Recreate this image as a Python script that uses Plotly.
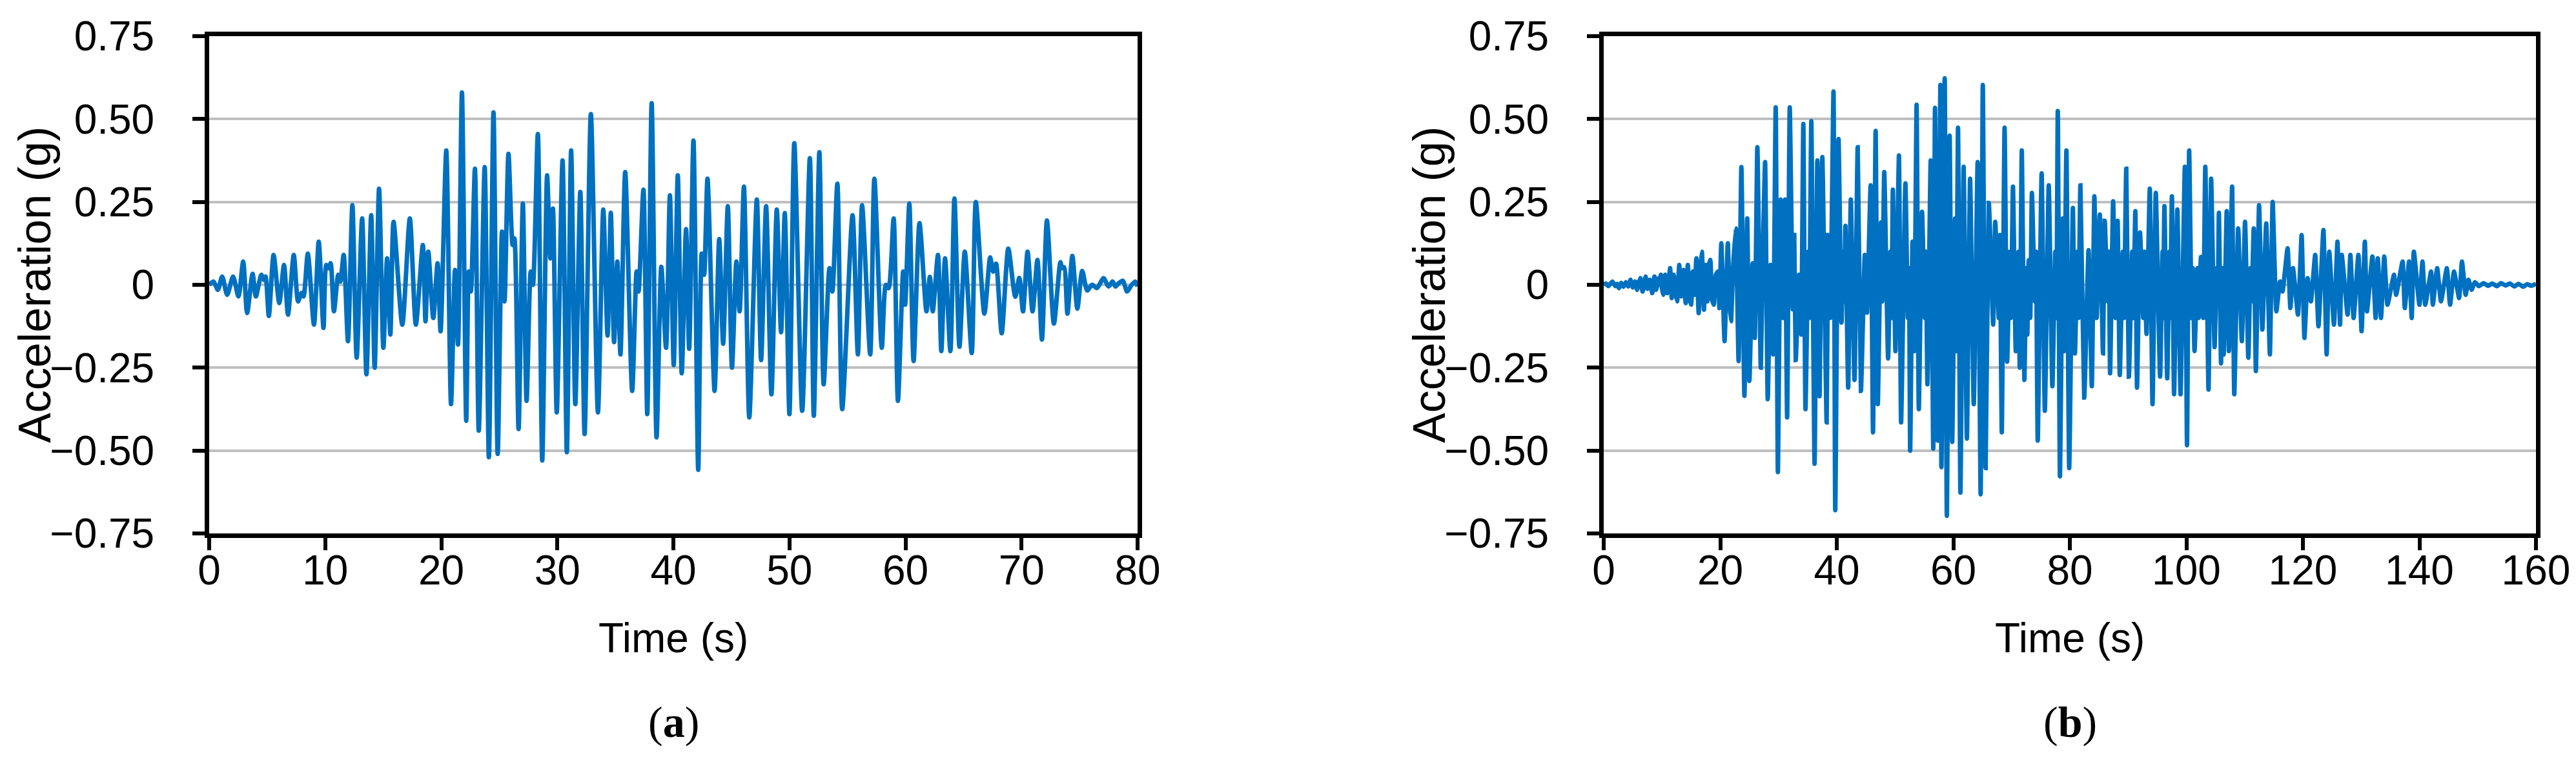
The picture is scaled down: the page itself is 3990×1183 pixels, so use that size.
import plotly.graph_objects as go

# ---------------- data: panel (a) ----------------
time_a = [0, 0.37, 0.75, 1.12, 1.55, 2.06, 2.52, 2.93, 3.27, 3.74,
          4.02, 4.49, 4.7, 4.86, 5.14, 5.55, 6.04, 6.45, 6.79, 7.29,
          7.66, 7.95, 8.13, 8.5, 9.03, 9.44, 9.85, 10.09, 10.3, 10.47,
          10.75, 11.12, 11.3, 11.59, 11.96, 12.34, 12.71, 13.18, 13.55, 13.96,
          14.26, 14.64, 15.01, 15.33, 15.61, 15.89, 16.64, 17.29, 17.81, 18.41,
          18.64, 18.88, 19.31, 19.68, 19.94, 20.43, 20.84, 21.18, 21.44, 21.78,
          22.15, 22.37, 22.55, 22.9, 23.23, 23.74, 24.1, 24.5, 24.86, 25.23,
          25.45, 25.79, 26.15, 26.3, 26.66, 27.03, 27.35, 27.71, 27.9, 28.32,
          28.7, 29.12, 29.4, 29.62, 29.95, 30.45, 30.82, 31.19, 31.55, 31.98,
          32.35, 32.89, 33.5, 33.96, 34.33, 34.61, 34.89, 35.17, 35.44, 35.85,
          36.45, 36.83, 37.0, 37.42, 37.75, 38.13, 38.55, 38.96, 39.37, 39.7,
          40.03, 40.38, 40.72, 41.09, 41.36, 41.73, 42.14, 42.44, 42.65, 42.94,
          43.55, 43.95, 44.29, 44.69, 45.05, 45.43, 45.71, 46.08, 46.54, 47.19,
          47.56, 47.99, 48.45, 48.91, 49.28, 49.6, 50.0, 50.42, 51.1, 51.76,
          52.1, 52.58, 52.95, 53.45, 53.7, 54.13, 54.55, 55.44, 55.9, 56.26,
          56.96, 57.32, 57.96, 58.31, 58.55, 58.98, 59.35, 59.8, 59.97, 60.33,
          60.7, 61.21, 61.81, 62.1, 62.35, 62.8, 63.09, 63.41, 63.87, 64.22,
          64.65, 65.11, 65.71, 66.06, 66.8, 67.3, 67.55, 67.8, 68.29, 68.86,
          69.46, 69.81, 70.13, 70.52, 70.95, 71.37, 71.76, 72.19, 72.79, 73.35,
          73.5, 73.67, 73.96, 74.38, 74.81, 75.23, 75.66, 76.08, 76.5, 77.07,
          77.5, 77.85, 78.1, 78.38, 78.74, 79.09, 79.5, 79.8, 80.0]

acc_a = [0, 0.01, -0.015, 0.025, -0.03, 0.025, -0.035, 0.07, -0.085, 0.033,
         -0.035, 0.03, 0.015, 0.025, -0.094, 0.09, -0.055, 0.06, -0.09, 0.09,
         -0.05, -0.025, -0.035, 0.094, -0.12, 0.13, -0.13, 0.06, 0.05, 0.065,
         -0.08, 0.03, 0.01, 0.09, -0.17, 0.24, -0.22, 0.20, -0.27, 0.21,
         -0.25, 0.29, -0.19, 0.08, -0.15, 0.19, -0.12, 0.20, -0.12, 0.12,
         -0.11, 0.10, -0.10, 0.065, -0.14, 0.405, -0.36, 0.045, -0.18, 0.58,
         -0.41, 0.04, -0.02, 0.35, -0.44, 0.355, -0.52, 0.52, -0.51, 0.16,
         -0.05, 0.395, 0.12, 0.14, -0.435, 0.245, -0.35, 0.04, 0.0, 0.455,
         -0.53, 0.33, 0.08, 0.23, -0.385, 0.375, -0.505, 0.405, -0.36, 0.28,
         -0.45, 0.515, -0.385, 0.227, -0.153, 0.217, -0.173, 0.07, -0.21, 0.34,
         -0.32, 0.04, -0.02, 0.287, -0.39, 0.548, -0.46, 0.054, -0.19, 0.27,
         -0.242, 0.33, -0.267, 0.168, -0.193, 0.435, -0.558, 0.094, 0.03, 0.32,
         -0.32, 0.138, -0.178, 0.237, -0.25, 0.07, -0.08, 0.296, -0.40, 0.257,
         -0.227, 0.237, -0.33, 0.227, -0.143, 0.216, -0.39, 0.427, -0.38, 0.382,
         -0.395, 0.40, -0.30, 0.05, -0.02, 0.305, -0.375, 0.21, -0.21, 0.24,
         -0.21, 0.32, -0.19, 0.0, -0.01, 0.2, -0.35, 0.04, -0.06, 0.245,
         -0.23, 0.186, -0.08, 0.024, -0.08, 0.09, -0.2, 0.08, -0.2, 0.26,
         -0.187, 0.1, -0.206, 0.25, -0.087, 0.083, 0.04, 0.064, -0.146, 0.109,
         -0.036, 0.021, -0.08, 0.1, -0.08, 0.075, -0.165, 0.194, -0.117, 0.068,
         0.05, 0.053, -0.087, 0.087, -0.072, 0.042, -0.017, 0.0, -0.01, 0.02,
         -0.005, 0.01, -0.005, 0.005, 0.012, -0.02, 0.0, 0.01, -0.005]

# ---------------- data: panel (b) ----------------
time_b = [0.0, 0.4, 0.8, 1.1, 1.5, 2.0, 2.3, 2.6, 3.0, 3.4,
          3.8, 4.2, 4.6, 5.0, 5.4, 5.74, 6.0, 6.15, 6.3, 6.67,
          7.0, 7.2, 7.5, 7.9, 8.33, 8.7, 9.0, 9.4, 9.6, 9.8,
          10.0, 10.2, 10.55, 10.9, 11.2, 11.4, 11.67, 12.0, 12.3, 12.6,
          12.96, 13.3, 13.7, 14.07, 14.44, 14.75, 15.0, 15.3, 15.6, 15.9,
          16.3, 16.6, 16.85, 17.2, 17.5, 17.8, 18.05, 18.3, 18.6, 18.9,
          19.25, 19.6, 19.85, 20.19, 20.74, 21.3, 21.6, 21.85, 22.2, 22.67,
          23.15, 23.63, 24.15, 24.63, 25.0, 25.56, 25.93, 26.37, 26.96, 27.3,
          27.7, 28.15, 28.63, 29.07, 29.52, 29.89, 30.37, 30.75, 31.11, 31.48,
          31.93, 32.45, 32.7, 32.96, 33.52, 33.9, 34.26, 34.63, 35.1, 35.3,
          35.63, 36.19, 36.67, 37.04, 37.52, 38.26, 38.52, 38.9, 39.44, 39.74,
          40.3, 40.81, 41.1, 41.3, 41.48, 41.96, 42.41, 43.04, 43.59, 44.15,
          44.81, 45.19, 45.81, 46.22, 46.67, 47.04, 47.59, 47.8, 48.15, 48.81,
          49.2, 49.4, 49.63, 50.07, 50.67, 51.04, 51.78, 52.2, 52.4, 52.6,
          53.0, 53.3, 53.7, 54.08, 54.64, 55.1, 55.3, 55.56, 56.12, 56.56,
          56.86, 57.33, 57.78, 57.96, 58.52, 58.89, 59.37, 59.81, 60.3, 60.5,
          60.81, 61.22, 61.77, 62.33, 62.88, 63.51, 64.18, 64.69, 65.06, 65.54,
          66.1, 66.84, 67.2, 67.8, 68.0, 68.32, 68.8, 69.24, 69.7, 69.9,
          70.24, 70.72, 71.2, 71.4, 71.75, 72.2, 72.5, 72.7, 72.94, 73.2,
          73.49, 74.0, 74.2, 74.49, 75.16, 75.71, 76.38, 77.0, 77.5, 77.7,
          77.93, 78.3, 78.8, 79.0, 79.41, 79.89, 80.52, 80.88, 81.3, 81.5,
          81.81, 82.47, 83.21, 83.77, 84.21, 84.6, 85.14, 85.69, 85.99, 86.5,
          86.7, 86.91, 87.43, 87.83, 88.2, 88.57, 89.1, 89.3, 89.68, 90.13,
          90.7, 90.9, 91.24, 91.53, 92.05, 92.6, 92.8, 93.16, 93.72, 94.19,
          94.75, 95.49, 95.9, 96.0, 96.23, 96.71, 97.1, 97.2, 97.52, 97.89,
          98.45, 99.0, 99.74, 100.11, 100.48, 100.9, 101.1, 101.4, 101.9, 102.1,
          102.51, 102.9, 103.25, 103.8, 104.25, 104.84, 105.2, 105.4, 105.58, 105.95,
          106.2, 106.4, 106.93, 107.3, 107.85, 108.22, 108.89, 109.52, 110.07, 110.63,
          111.0, 111.2, 111.56, 111.93, 112.48, 113.04, 113.7, 114.33, 114.81, 115.44,
          116.07, 116.5, 117.37, 117.85, 118.3, 119.15, 119.78, 120.26, 120.81, 121.37,
          122.11, 122.67, 123.52, 124.07, 124.52, 125.33, 125.93, 126.37, 126.67, 127.67,
          128.15, 128.7, 129.52, 130.07, 130.63, 131.0, 131.93, 132.48, 132.85, 133.4,
          133.96, 134.52, 135.63, 136.0, 137.11, 137.48, 138.22, 138.67, 139.04, 140.0,
          140.52, 141.0, 142.0, 142.3, 143.04, 143.7, 144.7, 145.26, 145.93, 146.81,
          147.3, 147.93, 148.41, 148.96, 149.5, 150.2, 151.0, 151.8, 152.5, 153.3,
          154.0, 154.8, 155.5, 156.3, 157.0, 157.8, 158.5, 159.2, 160.0]

acc_b = [0, 0.004, -0.004, 0.002, 0.01, -0.004, 0.003, -0.01, 0.006, -0.006,
         0.008, -0.005, 0.015, -0.008, 0.01, -0.015, 0.01, 0.0, 0.02, -0.02,
         0.008, 0.025, -0.012, 0.015, -0.025, 0.025, -0.015, 0.02, 0.0, 0.03,
         -0.01, -0.03, 0.03, -0.025, 0.02, 0.05, -0.04, 0.03, -0.02, -0.05,
         0.06, -0.035, 0.045, -0.055, 0.06, -0.04, -0.06, 0.04, -0.03, 0.08,
         -0.085, 0.05, 0.1, -0.075, 0.06, -0.05, 0.06, 0.075, -0.045, -0.06,
         0.03, 0.04, -0.07, 0.125, -0.17, 0.125, -0.05, -0.11, 0.05, 0.17,
         -0.23, 0.355, -0.335, 0.2, -0.29, 0.065, -0.16, 0.415, -0.25, 0.08,
         0.37, -0.345, 0.06, -0.21, 0.535, -0.565, 0.257, -0.1, 0.257, -0.4,
         0.535, -0.074, 0.15, -0.227, 0.03, -0.15, 0.485, -0.375, 0.1, -0.1,
         0.494, -0.54, 0.375, -0.336, 0.385, -0.415, 0.15, -0.1, 0.583, -0.68,
         0.44, -0.114, 0.1, -0.05, 0.178, -0.31, 0.257, -0.287, 0.415, -0.32,
         0.09, -0.084, 0.3, -0.445, 0.464, -0.36, 0.188, -0.05, 0.34, -0.222,
         0.1, -0.1, 0.287, -0.2, 0.39, -0.415, 0.306, -0.1, 0.05, -0.5,
         0.13, -0.2, 0.543, -0.375, 0.22, -0.1, 0.1, -0.3, 0.375, -0.494,
         0.534, -0.47, 0.603, -0.55, 0.623, -0.697, 0.45, -0.474, 0.2, -0.2,
         0.474, -0.627, 0.356, -0.464, 0.32, -0.36, 0.37, -0.632, 0.603, -0.553,
         0.247, -0.12, 0.19, -0.1, 0.15, -0.445, 0.474, -0.232, 0.1, -0.1,
         0.296, -0.2, 0.1, -0.25, 0.405, -0.287, 0.05, -0.15, 0.074, -0.1,
         0.277, -0.05, 0.1, -0.47, 0.336, -0.38, 0.3, -0.306, 0.1, -0.1,
         0.524, -0.578, 0.2, -0.2, 0.405, -0.553, 0.232, -0.207, 0.1, -0.1,
         0.3, -0.34, 0.104, -0.306, 0.267, -0.1, 0.212, -0.207, 0.193, -0.05,
         0.1, -0.267, 0.252, -0.1, 0.193, -0.272, 0.1, -0.1, 0.35, -0.277,
         0.1, -0.1, 0.222, -0.31, 0.158, -0.1, 0.1, -0.148, 0.29, -0.36,
         0.277, -0.277, 0.1, -0.1, 0.237, -0.282, 0.1, -0.1, 0.267, -0.33,
         0.227, -0.33, 0.356, -0.484, 0.405, -0.1, 0.05, -0.2, 0.05, -0.1,
         0.084, -0.1, 0.356, -0.316, 0.32, -0.188, 0.05, -0.05, 0.217, -0.237,
         0.05, -0.21, 0.222, -0.2, 0.296, -0.33, 0.17, -0.17, 0.19, -0.22,
         0.05, -0.05, 0.17, -0.26, 0.24, -0.135, 0.185, -0.21, 0.25, -0.08,
         0.01, -0.02, 0.11, -0.07, 0.05, -0.09, 0.15, -0.16, 0.02, -0.05,
         0.09, -0.125, 0.165, -0.21, 0.1, -0.12, 0.13, -0.12, 0.09, -0.09,
         0.09, -0.1, 0.09, -0.14, 0.13, -0.08, 0.085, -0.1, 0.08, -0.1,
         0.085, -0.06, 0.03, -0.03, 0.07, -0.07, 0.07, -0.1, 0.1, -0.06,
         0.07, -0.06, 0.04, -0.06, 0.05, -0.05, 0.05, -0.06, 0.04, -0.04,
         0.07, -0.03, 0.015, -0.015, 0.008, -0.004, 0.005, -0.003, 0.004, -0.004,
         0.005, -0.002, 0.004, -0.005, 0.003, -0.006, 0.002, -0.003, 0.003]

# ---------------- ticks / labels ----------------
y_tickvals = [-0.75, -0.5, -0.25, 0, 0.25, 0.5, 0.75]
y_ticktext = ["\u22120.75", "\u22120.50", "\u22120.25", "0", "0.25", "0.50", "0.75"]
x_ticks_a = [0, 10, 20, 30, 40, 50, 60, 70, 80]
x_ticks_b = [0, 20, 40, 60, 80, 100, 120, 140, 160]
x_title = "Time (s)"
y_title = "Acceleration (g)"
panel_labels = ["(<b>a</b>)", "(<b>b</b>)"]

W, H = 3990, 1183
SANS = "Liberation Sans, Arial, Helvetica, sans-serif"
SERIF = "Liberation Serif, Times New Roman, serif"
BLUE = "#0070C0"
FS = 64

# plot-area geometry (pixels)
ax_a = (316, 1754)
ax_b = (2476, 3920)
y_top, y_bot = 48, 818

def dx(p):
    return (p[0] / W, p[1] / W)

ydom = ((H - y_bot) / H, (H - y_top) / H)

fig = go.Figure()
fig.add_trace(go.Scatter(x=time_a, y=acc_a, mode="lines",
                         line=dict(color=BLUE, width=7, shape="spline", smoothing=0.7),
                         xaxis="x", yaxis="y", hoverinfo="skip"))
fig.add_trace(go.Scatter(x=time_b, y=acc_b, mode="lines",
                         line=dict(color=BLUE, width=7, shape="spline", smoothing=0.4),
                         xaxis="x2", yaxis="y2", hoverinfo="skip"))

common_x = dict(showline=True, linecolor="black", linewidth=7, mirror=True,
                ticks="outside", ticklen=19, tickwidth=6, tickcolor="black",
                showgrid=False, zeroline=False, automargin=False,
                tickfont=dict(family=SANS, size=FS, color="black"),
                ticklabelstandoff=-24)
common_y = dict(showline=True, linecolor="black", linewidth=7, mirror=True,
                ticks="outside", ticklen=19, tickwidth=6, tickcolor="black",
                showgrid=True, gridcolor="#BFBFBF", gridwidth=4, zeroline=False,
                automargin=False,
                range=[-0.75, 0.75], tickvals=y_tickvals, ticktext=y_ticktext,
                tickfont=dict(family=SANS, size=FS, color="black"),
                ticklabelstandoff=46, domain=ydom)

fig.update_layout(
    template="none",
    width=W, height=H,
    margin=dict(l=0, r=0, t=0, b=0, pad=0, autoexpand=False),
    paper_bgcolor="white", plot_bgcolor="white",
    showlegend=False,
    xaxis=dict(domain=dx(ax_a), range=[0, 80], tickvals=x_ticks_a, anchor="y", **common_x),
    yaxis=dict(anchor="x", **common_y),
    xaxis2=dict(domain=dx(ax_b), range=[0, 160], tickvals=x_ticks_b, anchor="y2", **common_x),
    yaxis2=dict(anchor="x2", **common_y),
)

ann = []
centers = [(ax_a[0] + ax_a[1]) / 2 / W, (ax_b[0] + ax_b[1]) / 2 / W]
ytitle_x = [46 / W, 2206 / W]
ycenter = 1 - ((y_top + y_bot) / 2) / H
for i in range(2):
    ann.append(dict(text=x_title, x=centers[i], y=1 - 980 / H, xref="paper", yref="paper",
                    xanchor="center", yanchor="middle", showarrow=False,
                    font=dict(family=SANS, size=FS, color="black")))
    ann.append(dict(text=panel_labels[i], x=centers[i], y=1 - 1110 / H, xref="paper", yref="paper",
                    xanchor="center", yanchor="middle", showarrow=False,
                    font=dict(family=SERIF, size=68, color="black")))
    ann.append(dict(text=y_title, x=ytitle_x[i], y=ycenter, xref="paper", yref="paper",
                    xanchor="center", yanchor="middle", showarrow=False, textangle=-90,
                    font=dict(family=SANS, size=70, color="black")))
fig.update_layout(annotations=ann)

fig.write_html("out.html")
